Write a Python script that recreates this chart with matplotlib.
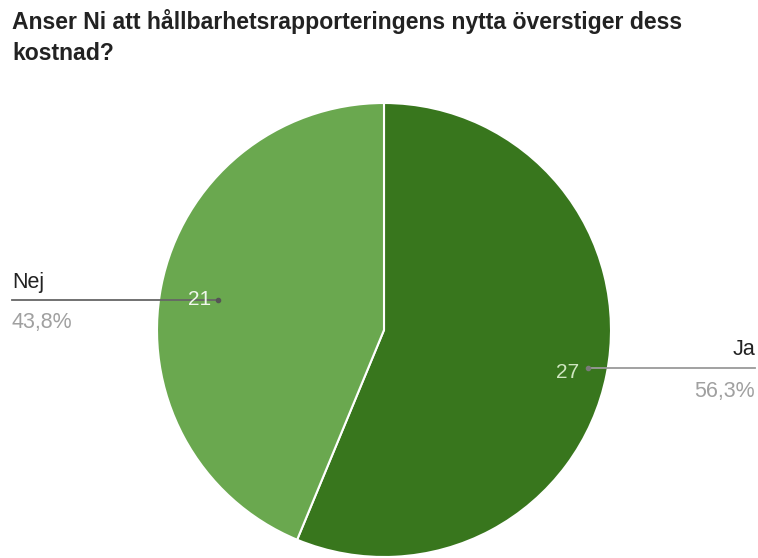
from decimal import Decimal, ROUND_HALF_UP

import matplotlib.pyplot as plt

plt.rcParams['font.family'] = ['Liberation Sans', 'DejaVu Sans']

# survey answers
labels = ["Ja", "Nej"]
counts = [27, 21]
colors = ["#38761d", "#6aa84f"]

W, H = 758, 558
fig = plt.figure(figsize=(W / 100, H / 100), dpi=100)
ax = fig.add_axes([0, 0, 1, 1])
ax.set_xlim(0, W)
ax.set_ylim(0, H)
ax.set_aspect("equal")
ax.axis("off")


def Y(y):
    # pixel rows counted from the top
    return H - y


cx, cy, r = 384, 330, 227
ax.pie(counts, colors=colors, startangle=90, counterclock=False,
       center=(cx, Y(cy)), radius=r,
       wedgeprops=dict(edgecolor="white", linewidth=1.5))
ax.set_xlim(0, W)
ax.set_ylim(0, H)

total = sum(counts)
pct = []
for c in counts:
    p = (Decimal(c) * 100 / Decimal(total)).quantize(Decimal("0.1"), ROUND_HALF_UP)
    pct.append(str(p).replace(".", ",") + "%")

# Ja label on the right
ax.plot([588, 755], [Y(368), Y(368)], color="#9a9a9a", lw=1.3, zorder=5)
ax.plot([588], [Y(368)], "o", ms=3, color="#7a7a7a", zorder=6)
ax.text(568, Y(378), str(counts[0]), ha="center", va="baseline",
        fontsize=15, color="#cfe6c0", zorder=7)
ax.text(755, Y(355), labels[0], ha="right", va="baseline", fontsize=15.5, color="#222222")
ax.text(755, Y(397), pct[0], ha="right", va="baseline", fontsize=15.5, color="#a0a0a0")

# Nej label on the left
ax.plot([12, 218], [Y(300), Y(300)], color="#666666", lw=1.3, zorder=5)
ax.plot([218], [Y(300)], "o", ms=3, color="#555555", zorder=6)
ax.text(200, Y(305), str(counts[1]), ha="center", va="baseline",
        fontsize=15, color="#f0f7ec", zorder=7)
ax.text(12, Y(288), labels[1], ha="left", va="baseline", fontsize=15.5, color="#222222")
ax.text(12, Y(328), pct[1], ha="left", va="baseline", fontsize=15.5, color="#a0a0a0")

# two-line question heading
ax.text(12, Y(29), "Anser Ni att hållbarhetsrapporteringens nytta överstiger dess",
        ha="left", va="baseline", fontsize=16.6, fontweight="bold", color="#222222")
ax.text(12, Y(60), "kostnad?",
        ha="left", va="baseline", fontsize=16.6, fontweight="bold", color="#222222")

fig.savefig("out.png", dpi=100, facecolor="white")
